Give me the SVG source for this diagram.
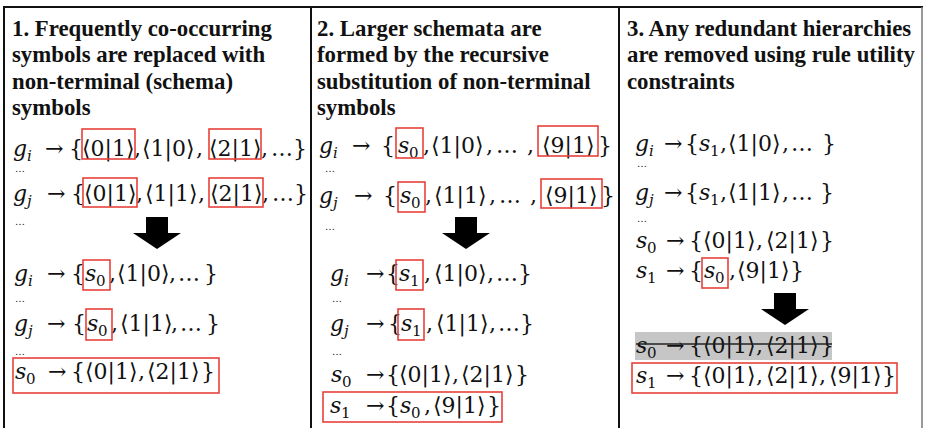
<svg xmlns="http://www.w3.org/2000/svg" width="925" height="428" viewBox="0 0 925 428">
<style>
.t{font-family:"Liberation Serif","Times New Roman",serif;font-weight:bold;font-size:22.8px;fill:#111}
.m{font-family:"DejaVu Serif","Liberation Serif",serif;font-size:22px;fill:#111}
.i{font-style:italic}
.sb{font-size:15px}
.d{font-family:"DejaVu Serif",serif;font-size:10px;fill:#222}
.box{fill:none;stroke:#e8413a;stroke-width:1.6}
.frame{stroke:#111;stroke-width:2;fill:none}
</style>
<defs>
<path id="blk" d="M-11,0 H11 V16 H24 L0,32 L-24,16 H-11 Z" fill="#000"/>
</defs>
<rect width="925" height="428" fill="#fff"/>
<g id="frame">
<path class="frame" d="M4,428 V7 H923"/>
<path class="frame" d="M311,7 V428 M619,7 V428"/>
<path d="M922,7 V428" stroke="#777" stroke-width="1.5"/>
</g>

<g id="panel1">
<text class="t" x="12" y="36">1. Frequently co-occurring</text>
<text class="t" x="12" y="62">symbols are replaced with</text>
<text class="t" x="12" y="89">non-terminal (schema)</text>
<text class="t" x="12" y="115">symbols</text>
<g id="p1-gi">
<text class="m" y="156"><tspan x="13" class="i">g</tspan><tspan class="i sb" x="27" dy="5">i</tspan><tspan x="45" dy="-5">→</tspan><tspan x="69">{</tspan><tspan x="82">⟨0|1⟩</tspan><tspan x="134">,</tspan><tspan x="142">⟨1|0⟩</tspan><tspan x="196">,</tspan><tspan x="209">⟨2|1⟩</tspan><tspan x="261">,</tspan><tspan x="271">…</tspan><tspan x="293">}</tspan></text>
<rect class="box" x="82" y="129" width="53" height="30"/><rect class="box" x="209" y="129" width="52" height="30"/>
</g>
<text class="d" x="15" y="172">…</text>
<g id="p1-gj">
<text class="m" y="201"><tspan x="13" class="i">g</tspan><tspan class="i sb" x="27" dy="5">j</tspan><tspan x="47" dy="-5">→</tspan><tspan x="71">{</tspan><tspan x="84">⟨0|1⟩</tspan><tspan x="136">,</tspan><tspan x="145">⟨1|1⟩</tspan><tspan x="198">,</tspan><tspan x="210">⟨2|1⟩</tspan><tspan x="262">,</tspan><tspan x="272">…</tspan><tspan x="294">}</tspan></text>
<rect class="box" x="83" y="178" width="54" height="29"/><rect class="box" x="209" y="178" width="54" height="29"/>
</g>
<text class="d" x="15" y="225">…</text>
<g id="p1-gi2">
<text class="m" y="281"><tspan x="14" class="i">g</tspan><tspan class="i sb" x="28" dy="5">i</tspan><tspan x="47" dy="-5">→</tspan><tspan x="71">{</tspan><tspan x="85" class="i">s</tspan><tspan class="sb" x="96" dy="5">0</tspan><tspan x="109" dy="-5">,</tspan><tspan x="117">⟨1|0⟩</tspan><tspan x="169">,</tspan><tspan x="178">…</tspan><tspan x="204">}</tspan></text>
<rect class="box" x="83" y="260" width="27" height="30"/>
</g>
<text class="d" x="15" y="302">…</text>
<g id="p1-gj2">
<text class="m" y="331"><tspan x="14" class="i">g</tspan><tspan class="i sb" x="28" dy="5">j</tspan><tspan x="47" dy="-5">→</tspan><tspan x="72">{</tspan><tspan x="87" class="i">s</tspan><tspan class="sb" x="98" dy="5">0</tspan><tspan x="111" dy="-5">,</tspan><tspan x="120">⟨1|1⟩</tspan><tspan x="171">,</tspan><tspan x="180">…</tspan><tspan x="206">}</tspan></text>
<rect class="box" x="86" y="309" width="26" height="31"/>
</g>
<text class="d" x="15" y="355">…</text>
<g id="p1-s0">
<text class="m" y="379"><tspan x="15" class="i">s</tspan><tspan class="sb" x="26" dy="5">0</tspan><tspan x="48" dy="-5">→</tspan><tspan x="71">{</tspan><tspan x="85">⟨0|1⟩</tspan><tspan x="138">,</tspan><tspan x="147">⟨2|1⟩</tspan><tspan x="201">}</tspan></text>
<rect class="box" x="13" y="358" width="206" height="35"/>
</g>
</g>

<g id="panel2">
<text class="t" x="317" y="36">2. Larger schemata are</text>
<text class="t" x="317" y="62">formed by the recursive</text>
<text class="t" x="317" y="89">substitution of non-terminal</text>
<text class="t" x="317" y="115">symbols</text>
<g id="p2-gi">
<text class="m" y="153"><tspan x="319" class="i">g</tspan><tspan class="i sb" x="333" dy="5">i</tspan><tspan x="352" dy="-5">→</tspan><tspan x="381">{</tspan><tspan x="398" class="i">s</tspan><tspan class="sb" x="409" dy="5">0</tspan><tspan x="423" dy="-5">,</tspan><tspan x="431">⟨1|0⟩</tspan><tspan x="486">,</tspan><tspan x="496">…</tspan><tspan x="527">,</tspan><tspan x="542">⟨9|1⟩</tspan><tspan x="598">}</tspan></text>
<rect class="box" x="396" y="128" width="27" height="30"/><rect class="box" x="538" y="126" width="60" height="30"/>
</g>
<text class="d" x="325" y="172">…</text>
<g id="p2-gj">
<text class="m" y="203"><tspan x="319" class="i">g</tspan><tspan class="i sb" x="333" dy="5">j</tspan><tspan x="354" dy="-5">→</tspan><tspan x="383">{</tspan><tspan x="400" class="i">s</tspan><tspan class="sb" x="411" dy="5">0</tspan><tspan x="425" dy="-5">,</tspan><tspan x="434">⟨1|1⟩</tspan><tspan x="489">,</tspan><tspan x="499">…</tspan><tspan x="530">,</tspan><tspan x="545">⟨9|1⟩</tspan><tspan x="601">}</tspan></text>
<rect class="box" x="398" y="182" width="27" height="30"/><rect class="box" x="541" y="179" width="61" height="29"/>
</g>
<text class="d" x="325" y="230">…</text>
<g id="p2-gi2">
<text class="m" y="281"><tspan x="330" class="i">g</tspan><tspan class="i sb" x="344" dy="5">i</tspan><tspan x="366" dy="-5">→</tspan><tspan x="386">{</tspan><tspan x="399" class="i">s</tspan><tspan class="sb" x="410" dy="5">1</tspan><tspan x="424" dy="-5">,</tspan><tspan x="434">⟨1|0⟩</tspan><tspan x="487">,</tspan><tspan x="496">…</tspan><tspan x="518">}</tspan></text>
<rect class="box" x="396" y="260" width="27" height="30"/>
</g>
<text class="d" x="332" y="302">…</text>
<g id="p2-gj2">
<text class="m" y="331"><tspan x="330" class="i">g</tspan><tspan class="i sb" x="344" dy="5">j</tspan><tspan x="366" dy="-5">→</tspan><tspan x="388">{</tspan><tspan x="401" class="i">s</tspan><tspan class="sb" x="412" dy="5">1</tspan><tspan x="426" dy="-5">,</tspan><tspan x="436">⟨1|1⟩</tspan><tspan x="489">,</tspan><tspan x="498">…</tspan><tspan x="520">}</tspan></text>
<rect class="box" x="398" y="309" width="26" height="31"/>
</g>
<text class="d" x="332" y="355">…</text>
<g id="p2-s0">
<text class="m" y="382"><tspan x="331" class="i">s</tspan><tspan class="sb" x="342" dy="5">0</tspan><tspan x="366" dy="-5">→</tspan><tspan x="386">{</tspan><tspan x="399">⟨0|1⟩</tspan><tspan x="452">,</tspan><tspan x="461">⟨2|1⟩</tspan><tspan x="515">}</tspan></text>
</g>
<g id="p2-s1">
<text class="m" y="413"><tspan x="330" class="i">s</tspan><tspan class="sb" x="341" dy="5">1</tspan><tspan x="366" dy="-5">→</tspan><tspan x="386">{</tspan><tspan x="400" class="i">s</tspan><tspan class="sb" x="411" dy="5">0</tspan><tspan x="424" dy="-5">,</tspan><tspan x="433">⟨9|1⟩</tspan><tspan x="487">}</tspan></text>
<rect class="box" x="323" y="392" width="179" height="30"/>
</g>
</g>

<g id="panel3">
<text class="t" x="627" y="36">3. Any redundant hierarchies</text>
<text class="t" x="627" y="62">are removed using rule utility</text>
<text class="t" x="627" y="89">constraints</text>
<g id="p3-gi">
<text class="m" y="151"><tspan x="635" class="i">g</tspan><tspan class="i sb" x="649" dy="5">i</tspan><tspan x="664" dy="-5">→</tspan><tspan x="685">{</tspan><tspan x="699" class="i">s</tspan><tspan class="sb" x="710" dy="5">1</tspan><tspan x="720" dy="-5">,</tspan><tspan x="728">⟨1|0⟩</tspan><tspan x="782">,</tspan><tspan x="791">…</tspan><tspan x="822">}</tspan></text>
</g>
<text class="d" x="637" y="167">…</text>
<g id="p3-gj">
<text class="m" y="200"><tspan x="635" class="i">g</tspan><tspan class="i sb" x="649" dy="5">j</tspan><tspan x="664" dy="-5">→</tspan><tspan x="685">{</tspan><tspan x="699" class="i">s</tspan><tspan class="sb" x="710" dy="5">1</tspan><tspan x="720" dy="-5">,</tspan><tspan x="728">⟨1|1⟩</tspan><tspan x="782">,</tspan><tspan x="791">…</tspan><tspan x="820">}</tspan></text>
</g>
<text class="d" x="637" y="222">…</text>
<g id="p3-s0">
<text class="m" y="248"><tspan x="636" class="i">s</tspan><tspan class="sb" x="647" dy="5">0</tspan><tspan x="666" dy="-5">→</tspan><tspan x="689">{</tspan><tspan x="703">⟨0|1⟩</tspan><tspan x="756">,</tspan><tspan x="766">⟨2|1⟩</tspan><tspan x="820">}</tspan></text>
</g>
<g id="p3-s1">
<text class="m" y="278"><tspan x="636" class="i">s</tspan><tspan class="sb" x="647" dy="5">1</tspan><tspan x="666" dy="-5">→</tspan><tspan x="689">{</tspan><tspan x="704" class="i">s</tspan><tspan class="sb" x="715" dy="5">0</tspan><tspan x="729" dy="-5">,</tspan><tspan x="737">⟨9|1⟩</tspan><tspan x="790">}</tspan></text>
<rect class="box" x="702" y="258" width="26" height="30"/>
</g>
<g id="p3-removed">
<rect x="635" y="332" width="197" height="28" fill="#c6c6c6"/>
<text class="m" y="353" fill="#333"><tspan x="636" class="i">s</tspan><tspan class="sb" x="647" dy="5">0</tspan><tspan x="666" dy="-5">→</tspan><tspan x="689">{</tspan><tspan x="703">⟨0|1⟩</tspan><tspan x="756">,</tspan><tspan x="766">⟨2|1⟩</tspan><tspan x="820">}</tspan></text>
<line x1="636" y1="344" x2="832" y2="344" stroke="#222" stroke-width="1.5"/>
</g>
<g id="p3-s1final">
<text class="m" y="383"><tspan x="636" class="i">s</tspan><tspan class="sb" x="647" dy="5">1</tspan><tspan x="666" dy="-5">→</tspan><tspan x="689">{</tspan><tspan x="703">⟨0|1⟩</tspan><tspan x="756">,</tspan><tspan x="766">⟨2|1⟩</tspan><tspan x="819">,</tspan><tspan x="829">⟨9|1⟩</tspan><tspan x="882">}</tspan></text>
<rect class="box" x="632" y="363" width="265" height="30"/>
</g>
</g>

<g id="connectors">
<use href="#blk" transform="translate(157,217)"/>
<use href="#blk" transform="translate(466,217)"/>
<use href="#blk" transform="translate(785,293)"/>
</g>
</svg>
